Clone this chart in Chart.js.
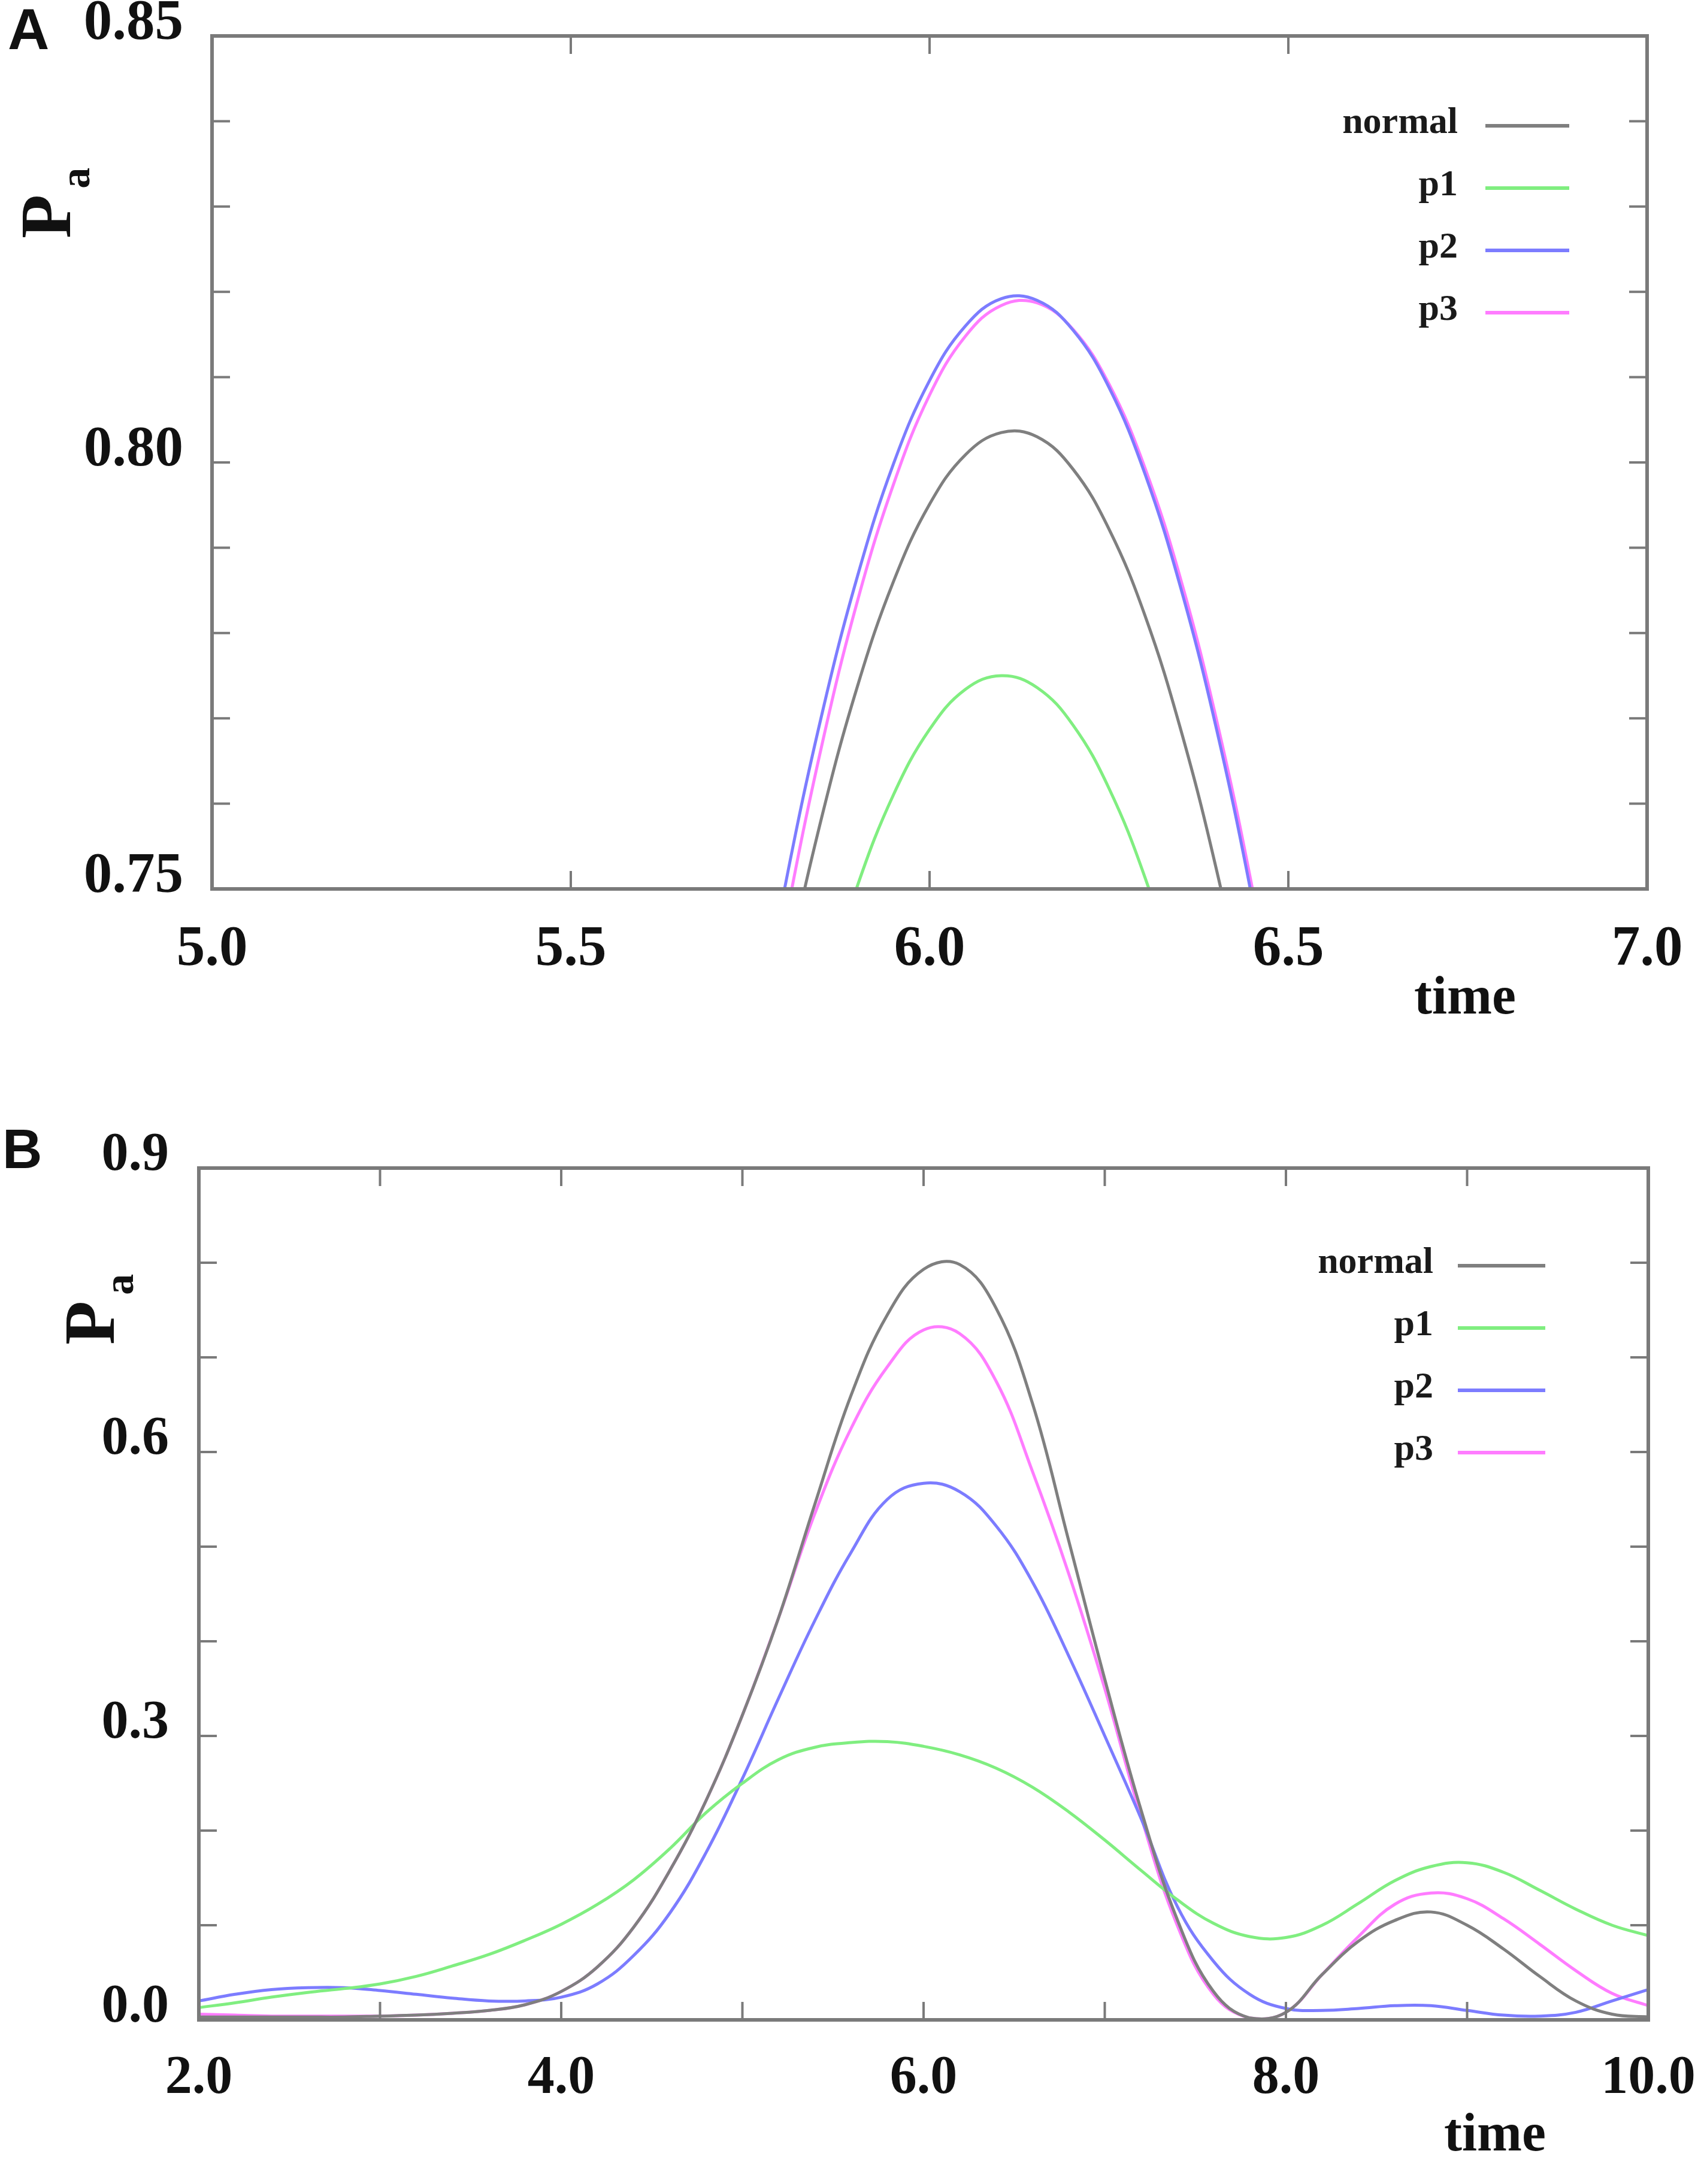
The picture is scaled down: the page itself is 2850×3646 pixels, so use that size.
<!DOCTYPE html>
<html>
<head>
<meta charset="utf-8">
<script src="https://cdn.jsdelivr.net/npm/chart.js@4.4.1/dist/chart.umd.min.js"></script>
<style>
  html, body { margin: 0; padding: 0; background: #fff; }
  #page { position: relative; width: 2850px; height: 3646px; overflow: hidden; background: #fff; }
  canvas { position: absolute; left: 0; }
  .lbl { position: absolute; line-height: 1; white-space: nowrap; color: #111; }
  .panel { font-family: 'Liberation Sans', Arial, sans-serif; font-weight: bold; }
  .serif { font-family: 'Liberation Serif', 'Times New Roman', serif; font-weight: bold; }
  .rot { transform: rotate(-90deg); transform-origin: left top; }
  .sub { position: relative; top: 32px; font-size: 70px; margin-left: 10px; }
</style>
</head>
<body>
<div id="page">
  <canvas id="chartA" width="2850" height="1800" style="top:0"></canvas>
  <canvas id="chartB" width="2850" height="1846" style="top:1800px"></canvas>

  <div class="lbl panel" style="left:13px; top:1px; font-size:96px">A</div>
  <div class="lbl panel" style="left:4px; top:1872px; font-size:92px">B</div>

  <div class="lbl serif rot" style="left:17px; top:398px; font-size:120px">P<span class="sub">a</span></div>
  <div class="lbl serif rot" style="left:90px; top:2245px; font-size:120px">P<span class="sub">a</span></div>

  <div class="lbl serif" style="left:2361px; top:1617px; font-size:90px">time</div>
  <div class="lbl serif" style="left:2411px; top:3515px; font-size:90px">time</div>
</div>

<script>
// Panel A : zoom sur le pic (5.0 - 7.0)
const timeA   = [5.75, 5.80, 5.85, 5.90, 5.95, 6.00, 6.05, 6.10, 6.15, 6.20, 6.25, 6.30, 6.35, 6.40, 6.45, 6.50];
const normalA = [0.7182, 0.7399, 0.7585, 0.7739, 0.7861, 0.7951, 0.8009, 0.8035, 0.8030, 0.7992, 0.7922, 0.7821, 0.7687, 0.7522, 0.7325, 0.7096];
const p1A     = [0.7006, 0.7202, 0.7369, 0.7505, 0.7611, 0.7687, 0.7734, 0.7750, 0.7736, 0.7692, 0.7618, 0.7514, 0.7380, 0.7217, 0.7023, 0.6798];
const p2A     = [0.7279, 0.7509, 0.7705, 0.7868, 0.7999, 0.8096, 0.8160, 0.8192, 0.8190, 0.8155, 0.8088, 0.7987, 0.7853, 0.7687, 0.7487, 0.7255];
const p3A     = [0.7228, 0.7465, 0.7669, 0.7839, 0.7975, 0.8079, 0.8148, 0.8184, 0.8187, 0.8156, 0.8092, 0.7994, 0.7863, 0.7698, 0.7500, 0.7268];

// Panel B : toute la courbe (2.0 - 10.0)
const timeB   = [2.0, 2.2, 2.4, 2.6, 2.8, 3.0, 3.2, 3.4, 3.6, 3.8, 4.0, 4.2, 4.4, 4.6, 4.8, 5.0, 5.2, 5.4, 5.6, 5.8, 6.0,
                 6.2, 6.4, 6.6, 6.8, 7.0, 7.2, 7.4, 7.6, 7.8, 8.0, 8.2, 8.4, 8.6, 8.8, 9.0, 9.2, 9.4, 9.6, 9.8, 10.0];
const normalB = [0.003, 0.003, 0.003, 0.003, 0.003, 0.004, 0.005, 0.007, 0.010, 0.016, 0.030, 0.056, 0.098, 0.158, 0.232, 0.322, 0.425, 0.545, 0.660, 0.745, 0.793,
                 0.798, 0.752, 0.652, 0.507, 0.360, 0.222, 0.106, 0.030, 0.002, 0.008, 0.048, 0.083, 0.105, 0.114, 0.100, 0.075, 0.046, 0.020, 0.006, 0.003];
const p1B     = [0.013, 0.018, 0.024, 0.029, 0.033, 0.038, 0.046, 0.057, 0.069, 0.084, 0.101, 0.122, 0.148, 0.181, 0.219, 0.250, 0.275, 0.288, 0.293, 0.294, 0.289,
                 0.280, 0.266, 0.246, 0.220, 0.190, 0.158, 0.127, 0.102, 0.088, 0.087, 0.100, 0.123, 0.147, 0.162, 0.166, 0.156, 0.137, 0.117, 0.100, 0.089];
const p2B     = [0.020, 0.027, 0.032, 0.034, 0.034, 0.031, 0.027, 0.023, 0.020, 0.020, 0.024, 0.038, 0.068, 0.113, 0.177, 0.255, 0.340, 0.422, 0.494, 0.550, 0.567,
                 0.558, 0.522, 0.463, 0.385, 0.300, 0.213, 0.120, 0.062, 0.027, 0.012, 0.010, 0.012, 0.015, 0.015, 0.010, 0.005, 0.004, 0.008, 0.020, 0.032];
const p3B     = [0.006, 0.005, 0.004, 0.004, 0.004, 0.004, 0.005, 0.007, 0.010, 0.016, 0.030, 0.056, 0.098, 0.158, 0.232, 0.322, 0.425, 0.535, 0.625, 0.690, 0.729,
                 0.725, 0.675, 0.580, 0.472, 0.350, 0.215, 0.100, 0.027, 0.002, 0.008, 0.048, 0.088, 0.122, 0.134, 0.128, 0.107, 0.080, 0.052, 0.028, 0.015];

const seriesNames = ['normal', 'p1', 'p2', 'p3'];
const seriesColors = ['#7f7f7f', '#80ee80', '#7c7cff', '#ff7cff'];

const SERIF = "'Liberation Serif', 'Times New Roman', serif";
const FRAME = '#7a7a7a';

// cadre gris + petites graduations vers l'intérieur (comme le graphique original)
const frameTicks = {
    id: 'frameTicks',
    afterDatasetsDraw(chart, args, opts) {
        const { ctx, chartArea: a, scales: { x, y } } = chart;
        ctx.save();
        ctx.strokeStyle = FRAME;
        ctx.lineWidth = 4;
        const seg = (x0, y0, x1, y1) => { ctx.beginPath(); ctx.moveTo(x0, y0); ctx.lineTo(x1, y1); ctx.stroke(); };
        x.ticks.forEach(t => {
            const px = x.getPixelForValue(t.value);
            if (px < a.left + 2 || px > a.right - 2) return;
            seg(px, a.bottom, px, a.bottom - opts.len);
            seg(px, a.top, px, a.top + opts.len);
        });
        y.ticks.forEach(t => {
            const py = y.getPixelForValue(t.value);
            if (py < a.top + 2 || py > a.bottom - 2) return;
            seg(a.left, py, a.left + opts.len, py);
            seg(a.right, py, a.right - opts.len, py);
        });
        ctx.lineWidth = 6;
        ctx.strokeRect(a.left, a.top, a.right - a.left, a.bottom - a.top);
        ctx.restore();
    }
};

// légende : texte à gauche, trait à droite
const sideLegend = {
    id: 'sideLegend',
    afterDraw(chart, args, o) {
        const { ctx, chartArea: a } = chart;
        ctx.save();
        ctx.font = 'bold ' + o.size + 'px ' + SERIF;
        ctx.textAlign = 'right';
        ctx.textBaseline = 'alphabetic';
        chart.data.datasets.forEach((ds, i) => {
            const yy = a.top + o.top + i * o.gap;
            const x0 = a.right + o.x0;
            ctx.strokeStyle = ds.borderColor;
            ctx.lineWidth = 6;
            ctx.beginPath();
            ctx.moveTo(x0, yy);
            ctx.lineTo(a.right + o.x1, yy);
            ctx.stroke();
            ctx.fillStyle = '#1a1a1a';
            ctx.fillText(ds.label, x0 - o.textGap, yy + 12);
        });
        ctx.restore();
    }
};

Chart.register(frameTicks, sideLegend);

function makeSets(times, lists) {
    return lists.map((vals, i) => ({
        label: seriesNames[i],
        data: times.map((t, k) => ({ x: t, y: vals[k] })),
        borderColor: seriesColors[i],
        backgroundColor: seriesColors[i],
        borderWidth: 5,
        pointRadius: 0,
        fill: false,
        tension: 0.4
    }));
}

function buildChart(id, cfg) {
    const tickFont = { family: SERIF, weight: 'bold', size: cfg.fontSize };
    return new Chart(document.getElementById(id), {
        type: 'line',
        data: { datasets: makeSets(cfg.times, cfg.lists) },
        options: {
            responsive: false,
            animation: false,
            devicePixelRatio: 1,
            layout: { padding: { left: 0, top: cfg.top, right: cfg.right, bottom: 0 } },
            plugins: {
                legend: { display: false },
                tooltip: { enabled: false },
                frameTicks: { len: 30 },
                sideLegend: cfg.legend
            },
            scales: {
                x: {
                    type: 'linear',
                    min: cfg.xMin, max: cfg.xMax,
                    afterFit: s => { s.height = cfg.xHeight; s.paddingLeft = 0; s.paddingRight = 0; },
                    border: { display: false },
                    grid: { display: false, drawTicks: false },
                    ticks: {
                        stepSize: cfg.xStep, autoSkip: false, maxRotation: 0,
                        padding: cfg.xPad, color: '#111', font: tickFont,
                        callback: cfg.xLabel
                    }
                },
                y: {
                    min: cfg.yMin, max: cfg.yMax,
                    // largeur fixe, et pas de marge auto pour les étiquettes
                    afterFit: s => { s.width = cfg.yWidth; s.paddingTop = 0; s.paddingBottom = 0; },
                    border: { display: false },
                    grid: { display: false, drawTicks: false },
                    ticks: {
                        stepSize: cfg.yStep, autoSkip: false,
                        padding: cfg.yPad, labelOffset: -20, color: '#111', font: tickFont,
                        callback: cfg.yLabel
                    }
                }
            }
        }
    });
}

buildChart('chartA', {
    times: timeA, lists: [normalA, p1A, p2A, p3A],
    top: 60, right: 100, xHeight: 316, yWidth: 354,
    xMin: 5, xMax: 7, xStep: 0.5, xPad: 45,
    yMin: 0.75, yMax: 0.85, yStep: 0.01, yPad: 48,
    fontSize: 95,
    xLabel: v => v.toFixed(1),
    yLabel: v => (Math.round(v * 100) % 5 === 0 ? v.toFixed(2) : ''),
    legend: { size: 62, top: 150, gap: 104, x0: -270, x1: -130, textGap: 46 }
});

buildChart('chartB', {
    times: timeB, lists: [normalB, p1B, p2B, p3B],
    top: 150, right: 98, xHeight: 274, yWidth: 332,
    xMin: 2, xMax: 10, xStep: 1, xPad: 45,
    yMin: 0, yMax: 0.9, yStep: 0.1, yPad: 50,
    fontSize: 90,
    xLabel: v => (Math.round(v) % 2 === 0 ? v.toFixed(1) : ''),
    yLabel: v => (Math.round(v * 10) % 3 === 0 ? v.toFixed(1) : ''),
    legend: { size: 62, top: 163, gap: 104, x0: -318, x1: -172, textGap: 41 }
});
</script>
</body>
</html>
